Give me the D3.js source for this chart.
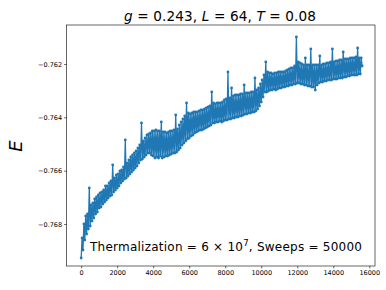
<!DOCTYPE html>
<html>
<head>
<meta charset="utf-8">
<script src="https://cdn.jsdelivr.net/npm/d3@7"></script>
<style>
  body { margin: 0; background: #fff; }
  text { font-family: "DejaVu Sans", sans-serif; }
</style>
</head>
<body>
<div id="chart"></div>
<script>
// sweep spacing between recorded samples
var sweepStep = 50;

// energy per site (one value every 50 sweeps)
var energy = [
  -0.769275, -0.768525, -0.768975, -0.768, -0.7686, -0.7677, -0.768375, -0.767625, -0.768188, -0.76665,
  -0.768075, -0.767288, -0.767888, -0.767213, -0.767775, -0.767063, -0.767625, -0.766988, -0.76755, -0.766913,
  -0.7674, -0.766838, -0.767363, -0.7668, -0.76725, -0.766725, -0.767175, -0.766575, -0.7671, -0.766575,
  -0.767025, -0.766463, -0.76695, -0.766388, -0.766913, -0.765788, -0.7668, -0.766275, -0.766725, -0.766163,
  -0.76665, -0.766125, -0.766575, -0.766013, -0.766463, -0.765975, -0.766388, -0.765863, -0.766313, -0.76485,
  -0.766275, -0.765713, -0.7662, -0.7656, -0.766125, -0.765488, -0.76605, -0.765413, -0.765975, -0.765338,
  -0.7659, -0.765263, -0.765825, -0.76515, -0.765713, -0.765038, -0.7656, -0.764213, -0.765563, -0.764888,
  -0.765488, -0.764775, -0.765413, -0.764663, -0.765338, -0.764625, -0.765338, -0.764588, -0.765413, -0.764513,
  -0.76545, -0.764513, -0.765525, -0.764475, -0.765488, -0.764513, -0.765525, -0.764513, -0.76545, -0.764175,
  -0.765525, -0.76455, -0.765488, -0.76455, -0.76545, -0.764588, -0.76545, -0.76455, -0.765413, -0.764513,
  -0.765375, -0.764513, -0.765338, -0.764475, -0.765338, -0.763913, -0.7653, -0.764438, -0.765225, -0.764288,
  -0.76515, -0.764175, -0.765038, -0.764063, -0.764963, -0.76395, -0.764888, -0.763463, -0.764813, -0.763838,
  -0.764775, -0.763875, -0.7647, -0.763838, -0.764663, -0.7638, -0.764588, -0.7638, -0.76455, -0.7638,
  -0.764513, -0.763763, -0.764475, -0.763725, -0.764475, -0.763725, -0.764438, -0.763688, -0.7644, -0.76365,
  -0.764363, -0.763613, -0.764325, -0.763575, -0.764288, -0.76305, -0.764213, -0.763463, -0.764213, -0.7635,
  -0.764175, -0.763463, -0.764175, -0.763463, -0.764138, -0.763463, -0.764175, -0.763425, -0.764138, -0.76335,
  -0.7641, -0.763313, -0.7641, -0.7623, -0.764063, -0.763275, -0.764063, -0.7629, -0.764025, -0.7632,
  -0.764025, -0.763163, -0.763988, -0.763163, -0.763988, -0.763163, -0.76395, -0.763125, -0.76395, -0.763125,
  -0.763913, -0.762788, -0.763875, -0.763088, -0.763875, -0.763088, -0.763838, -0.763088, -0.763838, -0.76305,
  -0.7638, -0.76305, -0.7638, -0.762525, -0.763763, -0.762975, -0.763688, -0.7629, -0.763575, -0.76275,
  -0.763425, -0.7626, -0.763238, -0.762413, -0.76305, -0.761925, -0.76305, -0.7623, -0.763013, -0.762338,
  -0.762975, -0.762338, -0.762975, -0.762375, -0.762938, -0.762338, -0.762975, -0.762338, -0.762938, -0.7623,
  -0.7629, -0.7623, -0.7629, -0.7623, -0.762863, -0.7623, -0.762863, -0.762263, -0.762825, -0.762225,
  -0.762825, -0.762188, -0.762788, -0.76215, -0.762788, -0.76215, -0.76275, -0.762075, -0.76275, -0.760988,
  -0.762713, -0.761925, -0.762713, -0.761963, -0.76275, -0.762, -0.76275, -0.762038, -0.762788, -0.761775,
  -0.762788, -0.762038, -0.762825, -0.762038, -0.762825, -0.761438, -0.762863, -0.762038, -0.762863, -0.762038,
  -0.762975, -0.762038, -0.762788, -0.762038, -0.762713, -0.7617, -0.762675, -0.762038, -0.762675, -0.762,
  -0.762638, -0.762, -0.762638, -0.761963, -0.7626, -0.761963, -0.7626, -0.761925, -0.7626, -0.761438,
  -0.762563, -0.761925, -0.762563, -0.761888, -0.762563, -0.761888, -0.762525, -0.76185, -0.762525, -0.76185,
  -0.762525, -0.76155, -0.762488, -0.761813, -0.762488, -0.761813, -0.76245, -0.761813, -0.76245, -0.761775,
  -0.762413, -0.761775, -0.762413, -0.761775, -0.762413, -0.761738, -0.762413, -0.7614, -0.762375, -0.761775,
  -0.762375, -0.761775, -0.762075
];

var xTicks = [0, 2000, 4000, 6000, 8000, 10000, 12000, 14000, 16000];
var yTicks = [-0.768, -0.766, -0.764, -0.762];

var width = 386, height = 290;
var margin = { top: 25, right: 11, bottom: 24, left: 66.5 };
var w = width - margin.left - margin.right;
var h = height - margin.top - margin.bottom;

var svg = d3.select('#chart').append('svg')
  .attr('width', width)
  .attr('height', height);

svg.append('rect').attr('width', width).attr('height', height).attr('fill', '#fff');

var g = svg.append('g')
  .attr('transform', 'translate(' + margin.left + ',' + margin.top + ')');

var x = d3.scaleLinear().domain([-815, 16316]).range([0, w]);
var y = d3.scaleLinear().domain([-0.769575, -0.760538]).range([h, 0]);

var pts = energy.map(function(e, i) { return [i * sweepStep, e]; });

var line = d3.line()
  .x(function(d) { return x(d[0]); })
  .y(function(d) { return y(d[1]); });

g.append('path')
  .datum(pts)
  .attr('fill', 'none')
  .attr('stroke', '#1f77b4')
  .attr('stroke-width', 1.3)
  .attr('stroke-linejoin', 'round')
  .attr('d', line);

g.selectAll('circle.pt')
  .data(pts)
  .enter().append('circle')
  .attr('class', 'pt')
  .attr('cx', function(d) { return x(d[0]); })
  .attr('cy', function(d) { return y(d[1]); })
  .attr('r', 1.4)
  .attr('fill', '#1f77b4');

// axes
var xAxis = g.append('g')
  .attr('transform', 'translate(0,' + h + ')')
  .call(d3.axisBottom(x).tickValues(xTicks).tickFormat(d3.format('d')).tickSize(2.4).tickPadding(2));
var yAxis = g.append('g')
  .call(d3.axisLeft(y).tickValues(yTicks).tickFormat(d3.format('.3f')).tickSize(2.4).tickPadding(2));

[xAxis, yAxis].forEach(function(a) {
  a.select('.domain').remove();
  a.selectAll('line').attr('stroke', '#000').attr('stroke-width', 0.6);
  a.selectAll('text').attr('font-family', 'DejaVu Sans').attr('font-size', 6.5).attr('fill', '#000');
});

// frame
g.append('rect')
  .attr('width', w).attr('height', h)
  .attr('fill', 'none')
  .attr('stroke', '#000')
  .attr('stroke-width', 0.6);

// title
var title = svg.append('text')
  .attr('x', 124)
  .attr('y', 20.5)
  .attr('font-size', 13.6)
  .attr('textLength', 192)
  .attr('lengthAdjust', 'spacing');
title.append('tspan').attr('font-style', 'italic').text('g');
title.append('tspan').text(' = 0.243, ');
title.append('tspan').attr('font-style', 'italic').text('L');
title.append('tspan').text(' = 64, ');
title.append('tspan').attr('font-style', 'italic').text('T');
title.append('tspan').text(' = 0.08');

// y label
svg.append('text')
  .attr('transform', 'translate(22,146) rotate(-90)')
  .attr('text-anchor', 'middle')
  .attr('font-size', 18)
  .attr('font-style', 'italic')
  .text('E');

// annotation
var note = svg.append('text')
  .attr('x', 90)
  .attr('y', 251)
  .attr('font-size', 12)
  .attr('textLength', 272)
  .attr('lengthAdjust', 'spacing');
note.append('tspan').text('Thermalization = 6 × 10');
note.append('tspan').attr('font-size', 8.5).attr('dy', -5).text('7');
note.append('tspan').attr('dy', 5).text(', Sweeps = 50000');
</script>
</body>
</html>
